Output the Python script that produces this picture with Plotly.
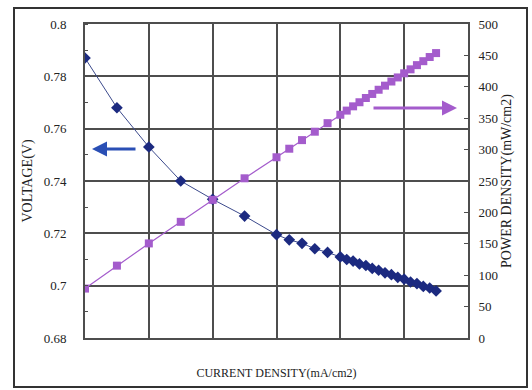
import plotly.graph_objects as go

# Fuel-cell polarisation data
current_density = [100, 150, 200, 250, 300, 350, 400, 420, 440, 460, 480, 500,
                   510, 520, 530, 540, 550, 560, 570, 580, 590, 600, 610, 620,
                   630, 640, 650]
voltage = [0.787, 0.768, 0.753, 0.740, 0.733, 0.7266, 0.7195, 0.7175, 0.7162,
           0.7141, 0.7127, 0.7110, 0.7100, 0.7094, 0.7083, 0.7077, 0.7066,
           0.7059, 0.7049, 0.7042, 0.7032, 0.7025, 0.7014, 0.7008, 0.6997,
           0.6991, 0.6980]
power_density = [78.7, 115.2, 150.6, 185.0, 220.0, 254.3, 287.8, 301.4, 315.1,
                 328.5, 342.1, 355.5, 362.1, 368.9, 375.4, 382.2, 388.6, 395.3,
                 401.8, 408.4, 414.9, 421.5, 427.8, 434.5, 440.8, 447.4, 453.7]

v_ticks = [0.68, 0.70, 0.72, 0.74, 0.76, 0.78, 0.80]
v_tick_text = ["0.68", "0.7", "0.72", "0.74", "0.76", "0.78", "0.8"]

BLUE = "#1c2a80"
PURPLE = "#a45ccc"
GRID = "#4e4e4e"
TEXT = "#222"
FONT = "Liberation Serif"

fig = go.Figure()
fig.add_trace(go.Scatter(
    x=current_density, y=voltage, mode="lines+markers",
    line=dict(color="#3c4a8c", width=1),
    marker=dict(symbol="diamond", size=9, color=BLUE),
    yaxis="y", showlegend=False))
fig.add_trace(go.Scatter(
    x=current_density, y=power_density, mode="lines+markers",
    line=dict(color=PURPLE, width=1.2),
    marker=dict(symbol="square", size=8, color=PURPLE),
    yaxis="y2", showlegend=False))

fig.update_layout(
    width=532, height=390,
    margin=dict(l=85, r=64, t=24, b=52),
    paper_bgcolor="white", plot_bgcolor="white",
    font=dict(family=FONT, size=13, color=TEXT),
    xaxis=dict(range=[100, 700], dtick=100, showticklabels=False,
               showgrid=True, gridcolor=GRID, gridwidth=2,
               showline=True, linecolor=GRID, linewidth=2, mirror=True,
               zeroline=False, ticks="",
               title=dict(text="CURRENT DENSITY(mA/cm2)", standoff=30,
                          font=dict(size=12, family=FONT, color=TEXT))),
    yaxis=dict(range=[0.68, 0.80], tickvals=v_ticks, ticktext=v_tick_text,
               showgrid=True, gridcolor=GRID, gridwidth=2,
               showline=True, linecolor=GRID, linewidth=2,
               zeroline=False, ticks="", ticklabelstandoff=14,
               minor=dict(dtick=0.01, ticks="inside", ticklen=3,
                          tickcolor=GRID, showgrid=False),
               tickfont=dict(size=13, family=FONT, color=TEXT),
               title=dict(text="VOLTAGE(V)", standoff=8,
                          font=dict(size=14, family=FONT, color=TEXT))),
    yaxis2=dict(range=[0, 500], dtick=50, overlaying="y", side="right",
                showgrid=False, zeroline=False,
                showline=True, linecolor=GRID, linewidth=2,
                ticks="inside", ticklen=4, tickcolor=GRID,
                ticklabelstandoff=6,
                tickfont=dict(size=13, family=FONT, color=TEXT),
                title=dict(text="POWER DENSITY(mW/cm2)", standoff=4,
                           font=dict(size=14, family=FONT, color=TEXT))),
)

# Outer frame around the whole chart
pw, ph = 532 - 85 - 64, 390 - 24 - 52
fig.add_shape(type="rect", xref="paper", yref="paper",
              x0=(14 - 85) / pw, x1=(527 - 85) / pw,
              y0=(338 - 387) / ph, y1=(338 - 8) / ph,
              line=dict(color="#333", width=2), layer="below")

# Arrows pointing each curve to its axis
fig.add_annotation(xref="paper", yref="paper",
                   x=(92 - 85) / pw, y=(338 - 149) / ph,
                   ax=45, ay=0, text="", showarrow=True,
                   arrowhead=2, arrowsize=1, arrowwidth=3, arrowcolor="#2a4fb5")
fig.add_annotation(xref="paper", yref="paper",
                   x=(457 - 85) / pw, y=(338 - 108) / ph,
                   ax=-85, ay=0, text="", showarrow=True,
                   arrowhead=2, arrowsize=1, arrowwidth=3, arrowcolor=PURPLE)

fig.write_html("out.html")
